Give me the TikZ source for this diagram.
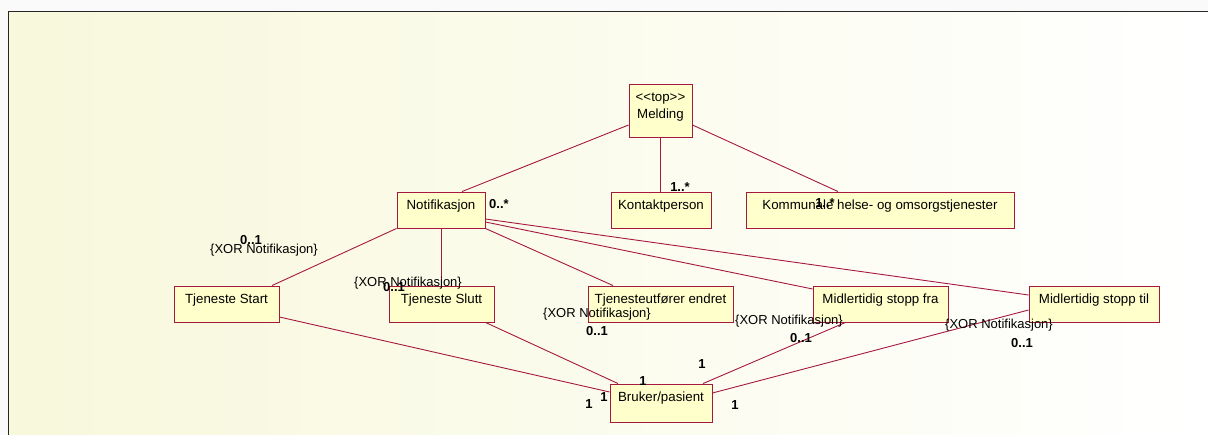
\documentclass[tikz,border=0pt]{standalone}
\usepackage{fontspec}
\setmainfont{Liberation Sans}
\usetikzlibrary{calc}
\definecolor{roseline}{RGB}{165,25,65}
\definecolor{rosefill}{RGB}{255,255,204}
\definecolor{paper}{RGB}{248,248,220}
\begin{document}
\begin{tikzpicture}[x=1pt,y=-1pt,
    cls/.style={draw=roseline, fill=rosefill, line width=0.9pt, rectangle, inner xsep=0pt, inner ysep=4pt,
      text height=13.5pt, text depth=14.5pt, font=\fontsize{13.3}{17}\selectfont},
    assoc/.style={roseline, line width=0.9pt},
    mult/.style={font=\fontsize{13}{15}\selectfont\bfseries, inner sep=0pt},
    xor/.style={font=\fontsize{13}{15}\selectfont, inner sep=0pt}]
  \useasboundingbox (0,0) rectangle (1208,435);
  % background and frame
  \fill [black!2] (0,0) rectangle (1208,435);
  \shade [left color=paper, right color=white] (8,11.5) rectangle (1208,435);
  \draw [black!85, line width=1pt] (8,435) -- (8,11.5) -- (1208,11.5);

  % classes
  \node [cls, minimum width=63pt, text height=14pt, text depth=31pt] (melding) at (660.5,110.5)
    {\begin{tabular}[t]{@{}c@{}}<\kern0pt<top>\kern0pt>\\Melding\end{tabular}};
  \node [cls, minimum width=88pt] (notif) at (441,210) {Notifikasjon};
  \node [cls, minimum width=100pt] (kontakt) at (661,210) {Kontaktperson};
  \node [cls, minimum width=268pt] (kommunale) at (880,210) {Kommunale helse- og omsorgstjenester};
  \node [cls, minimum width=105pt] (tstart) at (226.5,304) {Tjeneste Start};
  \node [cls, minimum width=105pt] (tslutt) at (441.5,304) {Tjeneste Slutt};
  \node [cls, minimum width=145pt] (tendret) at (660.5,304) {Tjenesteutfører endret};
  \node [cls, minimum width=135pt] (mfra) at (880.5,304) {Midlertidig stopp fra};
  \node [cls, minimum width=130pt] (mtil) at (1094,304) {Midlertidig stopp til};
  \node [cls, minimum width=102pt, text depth=16.5pt] (bruker) at (661,403) {Bruker/pasient};

  % associations
  \draw [assoc] ($(melding.west)+(0,14.5)$) -- ($(notif.north)+(21,0)$);
  \draw [assoc] (melding.south) -- (melding.south |- kontakt.north);
  \draw [assoc] ($(melding.east)+(0,14.5)$) -- ($(kommunale.north)+(-42,0)$);
  \draw [assoc] (notif.south west) -- ($(tstart.north)+(45.5,0)$);
  \draw [assoc] (notif.south) -- (notif.south |- tslutt.north);
  \draw [assoc] (notif.south east) -- ($(tendret.north)+(-47.5,0)$);
  \draw [assoc] ($(notif.east)+(0,12)$) -- ($(mfra.west)+(0,-15)$);
  \draw [assoc] ($(notif.east)+(0,9)$) -- ($(mtil.west)+(0,-9)$);
  \draw [assoc] ($(tstart.east)+(0,13)$) -- ($(bruker.west)+(0,-11)$);
  \draw [assoc] ($(tslutt.south)+(44,0)$) -- ($(bruker.north)+(-43,0)$);
  \draw [assoc] (tendret.south) -- (tendret.south -| bruker.north);
  \draw [assoc] ($(mfra.south)+(-35,0)$) -- ($(bruker.north)+(42,0)$);
  \draw [assoc] ($(mtil.west)+(0,6)$) -- ($(bruker.east)+(0,-10)$);

  % multiplicities and constraints
  \node [mult] (mnotif) at (499,204) {0..*};
  \node [mult] (mkontakt) at (680,187) {1..*};
  \node [mult] (mkommunale) at (825,203) {1..*};
  \node [mult] (mstart) at (251,240) {0..1};
  \node [xor] (xstart) at (264,250) {\{XOR Notifikasjon\}};
  \node [xor] (xslutt) at (408,283) {\{XOR Notifikasjon\}};
  \node [mult] (mslutt) at (394,287) {0..1};
  \node [xor] (xendret) at (597,314) {\{XOR Notifikasjon\}};
  \node [mult] (mendret) at (597,331) {0..1};
  \node [xor] (xfra) at (789,321) {\{XOR Notifikasjon\}};
  \node [mult] (mfra1) at (801,338) {0..1};
  \node [xor] (xtil) at (999,325) {\{XOR Notifikasjon\}};
  \node [mult] (mtil1) at (1022,343) {0..1};
  \node [mult] (b1) at (589,404) {1};
  \node [mult] (b2) at (604,397) {1};
  \node [mult] (b3) at (643,381) {1};
  \node [mult] (b4) at (702,364) {1};
  \node [mult] (b5) at (735,405) {1};
\end{tikzpicture}
\end{document}
